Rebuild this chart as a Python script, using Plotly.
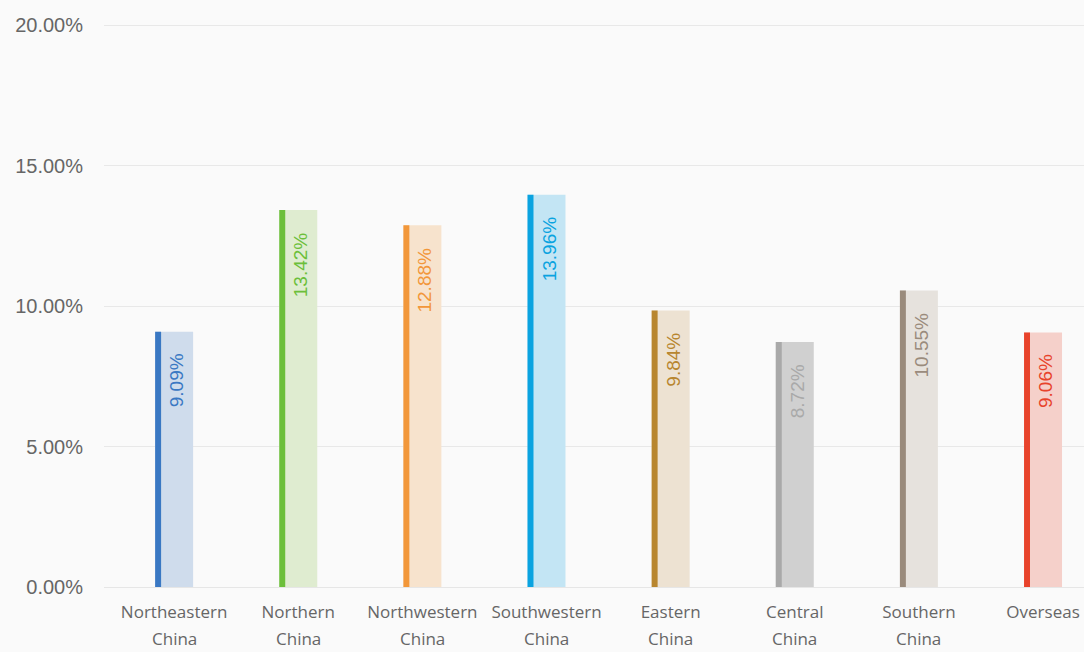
import plotly.graph_objects as go

regions = ["Northeastern", "Northern", "Northwestern", "Southwestern",
           "Eastern", "Central", "Southern", "Overseas"]
regions_line2 = ["China", "China", "China", "China", "China", "China", "China", ""]
shares = [9.09, 13.42, 12.88, 13.96, 9.84, 8.72, 10.55, 9.06]
labels = ["9.09%", "13.42%", "12.88%", "13.96%", "9.84%", "8.72%", "10.55%", "9.06%"]

dark_colors = ["#3a78c3", "#6cbf3a", "#f2973a", "#0aa3e0",
               "#b8862f", "#a9a9a9", "#9a8b7c", "#e8432b"]
light_colors = ["#cfdcec", "#dfecd0", "#f7e3cd", "#c3e5f4",
                "#ede2d2", "#d0d0d0", "#e6e2dd", "#f5d0ca"]

xs = list(range(len(regions)))
bar_w = 0.306
edge_w = 0.048

fig = go.Figure()
fig.add_trace(go.Bar(x=xs, y=shares, width=bar_w, offset=-bar_w / 2,
                     marker=dict(color=light_colors, line=dict(width=0)),
                     hoverinfo="skip"))
fig.add_trace(go.Bar(x=xs, y=shares, width=edge_w, offset=-bar_w / 2,
                     marker=dict(color=dark_colors, line=dict(width=0)),
                     hoverinfo="skip"))

# rotated value labels near the top of each bar
for x, v, t, c in zip(xs, shares, labels, dark_colors):
    fig.add_annotation(x=x + 0.02, y=v, text=t, showarrow=False, textangle=-90,
                       xanchor="center", yanchor="top", yshift=-20,
                       font=dict(family="Liberation Sans, Arial", size=19, color=c))

# second line of the category labels (wider line spacing than <br>)
for x, t in zip(xs, regions_line2):
    if t:
        fig.add_annotation(x=x, y=0, yref="paper", text=t, showarrow=False,
                           xanchor="center", yanchor="middle", yshift=-51,
                           font=dict(family="Open Sans, Noto Sans", size=17, color="#666666"))

fig.update_layout(
    width=1084, height=652,
    barmode="overlay", showlegend=False,
    paper_bgcolor="#fafafa", plot_bgcolor="#fafafa",
    margin=dict(l=104, r=0, t=24, b=65),
)
fig.update_xaxes(tickmode="array", tickvals=xs, ticktext=regions,
                 range=[-0.565, 7.33], showgrid=False, showline=True,
                 linecolor="#e6e6e6", ticks="", ticklabelstandoff=10,
                 tickfont=dict(family="Open Sans, Noto Sans", size=17, color="#666666"))
fig.update_yaxes(range=[0, 20.04], dtick=5, tickformat=".2f", ticksuffix="%",
                 showgrid=True, gridcolor="#e8e8e8", zeroline=False,
                 ticklabelstandoff=20,
                 tickfont=dict(family="Liberation Sans, Arial", size=20, color="#666666"))

fig.write_html("out.html", config={"displayModeBar": False},
               post_script="document.body.style.margin='0';")
